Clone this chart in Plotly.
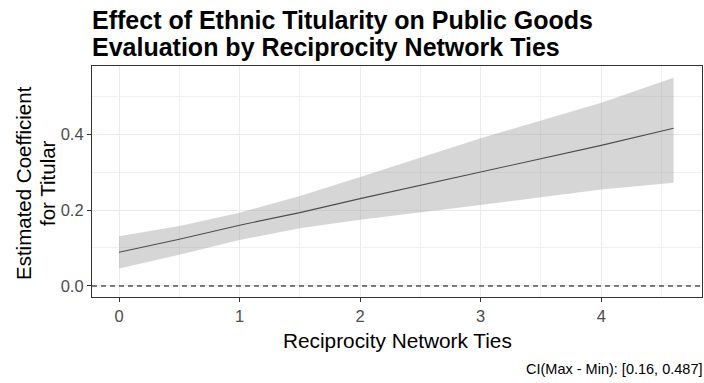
import plotly.graph_objects as go

# Marginal effect of titular status across reciprocity network ties
ties = [0, 0.5, 1, 1.5, 2, 3, 4, 4.6]
estimate = [0.089, 0.123, 0.160, 0.193, 0.230, 0.300, 0.370, 0.415]
ci_lower = [0.046, 0.082, 0.121, 0.152, 0.174, 0.213, 0.254, 0.272]
ci_upper = [0.131, 0.158, 0.193, 0.237, 0.287, 0.389, 0.482, 0.548]

x_ticks = [0, 1, 2, 3, 4]
x_tick_labels = ["0", "1", "2", "3", "4"]
y_ticks = [0.0, 0.2, 0.4]
y_tick_labels = ["0.0", "0.2", "0.4"]

title_lines = ["Effect of Ethnic Titularity on Public Goods",
               "Evaluation by Reciprocity Network Ties"]
x_title = "Reciprocity Network Ties"
y_title_lines = ["Estimated Coefficient", "for Titular"]
caption = "CI(Max - Min): [0.16, 0.487]"

W, H = 704, 383
ML, MR, MT, MB = 92, 2, 66, 86
PW, PH = W - ML - MR, H - MT - MB
FONT = "Liberation Sans, Arial, sans-serif"


def px_x(px):
    return (px - ML) / PW


def px_y(py):
    return (H - MB - py) / PH


fig = go.Figure()

# Confidence band
fig.add_trace(go.Scatter(x=ties, y=ci_lower, mode="lines",
                         line=dict(width=0), hoverinfo="skip", showlegend=False))
fig.add_trace(go.Scatter(x=ties, y=ci_upper, mode="lines", fill="tonexty",
                         fillcolor="rgba(153,153,153,0.40)",
                         line=dict(width=0), hoverinfo="skip", showlegend=False))
# Point estimate
fig.add_trace(go.Scatter(x=ties, y=estimate, mode="lines",
                         line=dict(color="#4d4d4d", width=1.1), showlegend=False))

# Reference line at zero
fig.add_hline(y=0, line=dict(color="black", width=1.1, dash="5px,4px"))

axis_common = dict(
    showline=True, linecolor="#333333", linewidth=1.2, mirror=True,
    ticks="outside", ticklen=4, tickcolor="#333333", tickwidth=1,
    tickfont=dict(family=FONT, size=16.5, color="#4d4d4d"),
    showgrid=True, gridcolor="#ebebeb", gridwidth=1.1, zeroline=False,
)

fig.update_xaxes(range=[-0.224, 4.836], tickvals=x_ticks, ticktext=x_tick_labels,
                 minor=dict(dtick=0.5, tick0=0, showgrid=True,
                            gridcolor="#f0f0f0", gridwidth=0.8, ticks=""),
                 **axis_common)
fig.update_yaxes(range=[-0.029, 0.579], tickvals=y_ticks, ticktext=y_tick_labels,
                 minor=dict(dtick=0.1, tick0=0, showgrid=True,
                            gridcolor="#f0f0f0", gridwidth=0.8, ticks=""),
                 **axis_common)

annotations = [
    dict(text=f"<b>{title_lines[0]}</b>", x=px_x(90), y=px_y(20), xanchor="left",
         yanchor="middle", font=dict(family=FONT, size=25, color="black")),
    dict(text=f"<b>{title_lines[1]}</b>", x=px_x(90), y=px_y(47), xanchor="left",
         yanchor="middle", font=dict(family=FONT, size=25, color="black")),
    dict(text=x_title, x=px_x(ML + PW / 2), y=px_y(340), xanchor="center",
         yanchor="middle", font=dict(family=FONT, size=20.8, color="black")),
    dict(text=y_title_lines[0], x=px_x(23), y=px_y(183), textangle=-90,
         xanchor="center", yanchor="middle", font=dict(family=FONT, size=20.5, color="black")),
    dict(text=y_title_lines[1], x=px_x(47), y=px_y(183), textangle=-90,
         xanchor="center", yanchor="middle", font=dict(family=FONT, size=20.5, color="black")),
    dict(text=caption, x=px_x(704), y=px_y(369), xanchor="right",
         yanchor="middle", font=dict(family=FONT, size=14.5, color="black")),
]
for a in annotations:
    a.update(xref="paper", yref="paper", showarrow=False)

fig.update_layout(
    width=W, height=H,
    margin=dict(l=ML, r=MR, t=MT, b=MB),
    paper_bgcolor="white", plot_bgcolor="white",
    annotations=annotations,
    showlegend=False,
)

fig.write_html("out.html")
